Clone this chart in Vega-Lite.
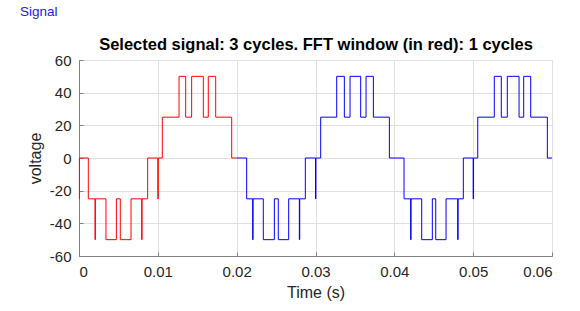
{
  "$schema": "https://vega.github.io/schema/vega-lite/v6.json",
  "width": 473,
  "height": 196,
  "autosize": {"type": "none"},
  "padding": {"left": 79, "top": 60, "right": 28, "bottom": 55},
  "background": "white",
  "title": {"text": "Signal", "anchor": "start", "frame": "group", "dx": -59, "offset": 7, "fontSize": 13.5, "fontWeight": "normal", "color": "#2222dd", "font": "Liberation Sans", "baseline": "alphabetic"},
  "config": {
    "view": {"stroke": null},
    "axis": {"domainColor": "#808080", "tickColor": "#808080", "gridColor": "#e0e0e0", "labelColor": "#262626", "titleColor": "#262626", "labelFont": "Liberation Sans", "titleFont": "Liberation Sans", "labelFontSize": 15, "titleFontSize": 16, "titleFontWeight": "normal", "tickSize": -4}
  },
  "datasets": {
    "window": [
      {"t": 0, "v": -25}, {"t": 0.00005, "v": 0}, {"t": 0.00118, "v": -25}, {"t": 0.00203, "v": -50}, {"t": 0.00208, "v": -25},
      {"t": 0.00342, "v": -50}, {"t": 0.00474, "v": -25}, {"t": 0.00524, "v": -50}, {"t": 0.0066, "v": -25}, {"t": 0.00795, "v": -50},
      {"t": 0.008, "v": -25}, {"t": 0.00871, "v": 0}, {"t": 0.01, "v": -25}, {"t": 0.01005, "v": 0}, {"t": 0.01057, "v": 25},
      {"t": 0.01269, "v": 50}, {"t": 0.01353, "v": 25}, {"t": 0.01429, "v": 50}, {"t": 0.01577, "v": 25}, {"t": 0.0164, "v": 50},
      {"t": 0.01734, "v": 25}, {"t": 0.01937, "v": 0}, {"t": 0.02, "v": 0}
    ],
    "signal": [
      {"t": 0.02, "v": 0}, {"t": 0.02127, "v": -25}, {"t": 0.02203, "v": -50}, {"t": 0.02208, "v": -25}, {"t": 0.02338, "v": -50},
      {"t": 0.02478, "v": -25}, {"t": 0.02528, "v": -50}, {"t": 0.0266, "v": -25}, {"t": 0.02795, "v": -50}, {"t": 0.028, "v": -25},
      {"t": 0.02871, "v": 0}, {"t": 0.03, "v": -25}, {"t": 0.03005, "v": 0}, {"t": 0.03066, "v": 25}, {"t": 0.03269, "v": 50},
      {"t": 0.03366, "v": 25}, {"t": 0.03438, "v": 50}, {"t": 0.03573, "v": 25}, {"t": 0.03641, "v": 50}, {"t": 0.03734, "v": 25},
      {"t": 0.03937, "v": 0}, {"t": 0.04123, "v": -25}, {"t": 0.04207, "v": -50}, {"t": 0.04212, "v": -25}, {"t": 0.04347, "v": -50},
      {"t": 0.04482, "v": -25}, {"t": 0.04525, "v": -50}, {"t": 0.04656, "v": -25}, {"t": 0.04804, "v": -50}, {"t": 0.04809, "v": -25},
      {"t": 0.04875, "v": 0}, {"t": 0.05, "v": -25}, {"t": 0.05005, "v": 0}, {"t": 0.05058, "v": 25}, {"t": 0.05268, "v": 50},
      {"t": 0.05357, "v": 25}, {"t": 0.05433, "v": 50}, {"t": 0.05582, "v": 25}, {"t": 0.05641, "v": 50}, {"t": 0.0573, "v": 25},
      {"t": 0.05941, "v": 0}, {"t": 0.06, "v": 0}
    ]
  },
  "encoding": {
    "y": {"field": "v", "type": "quantitative", "scale": {"domain": [-60, 60], "nice": false, "zero": false},
          "axis": {"title": "voltage", "values": [-60, -40, -20, 0, 20, 40, 60], "labelExpr": "'' + datum.value", "labelPadding": 12, "titlePadding": 6, "grid": true}}
  },
  "layer": [
    {
      "data": {"name": "window"},
      "mark": {"type": "line", "interpolate": "step-after", "strokeWidth": 1, "color": "#ff0000"},
      "encoding": {
        "x": {"field": "t", "type": "quantitative", "scale": {"domain": [0, 0.06], "nice": false, "zero": false},
              "axis": {"orient": "bottom", "title": "Time (s)", "values": [0, 0.01, 0.02, 0.03, 0.04, 0.05, 0.06], "format": ".2~f", "labelPadding": 12, "titlePadding": 5, "grid": true}}
      }
    },
    {
      "data": {"name": "signal"},
      "mark": {"type": "line", "interpolate": "step-after", "strokeWidth": 1, "color": "#0000ff"},
      "encoding": {
        "x": {"field": "t", "type": "quantitative", "scale": {"domain": [0, 0.06], "nice": false, "zero": false},
              "axis": {"orient": "top", "title": "Selected signal: 3 cycles. FFT window (in red): 1 cycles", "labels": false, "ticks": false, "domain": false, "grid": false, "titleFontSize": 16.5, "titleFontWeight": "bold", "titleColor": "#000000", "titlePadding": 8}}
      }
    }
  ],
  "resolve": {"axis": {"x": "independent"}}
}
